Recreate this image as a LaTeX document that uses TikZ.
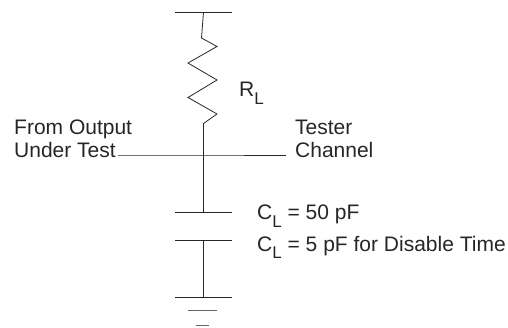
\documentclass[tikz,border=0pt]{standalone}
\usepackage{fontspec}
\setmainfont{Liberation Sans}
\usetikzlibrary{positioning,calc}
\newcommand{\subL}{\raisebox{-7.5pt}{\fontsize{17}{17}\selectfont L}}
\tikzset{wire/.style={line width=0.8pt,black!85},
  lbl/.style={inner sep=0pt,anchor=base west,font=\fontsize{21}{23}\selectfont,text=black!85}}
\begin{document}
\begin{tikzpicture}[x=1pt,y=-1pt]
   \useasboundingbox (0,0) rectangle (508,328);
   % supply and load
   \coordinate (top_l) at (175,12);
   \coordinate (top_r) at (232,12);
   \coordinate (top_m) at (203.5,12);
   \coordinate (res_a) at (201.5,38);
   \coordinate (res_b) at (203.5,123.5);
   \coordinate (junction) at (203.5,155);
   \coordinate (plate_m) at (203.5,212);
   \coordinate (plate_l) at (175,212);
   \coordinate (plate_r) at (232,212);
   \coordinate (lower_m) at (203.5,240.7);
   \coordinate (lower_l) at (175,240.7);
   \coordinate (lower_r) at (232,240.7);
   \coordinate (gnd_m) at (203.5,297);
   \coordinate (gnd_l) at (175,297);
   \coordinate (gnd_r) at (232,297);
   \coordinate (gnd2_l) at (188,310);
   \coordinate (gnd2_r) at (217,310);
   \coordinate (gnd3_l) at (196,325.7);
   \coordinate (gnd3_r) at (209,325.7);
   \coordinate (in_wire) at (118,155);
   \coordinate (out_wire) at (286,155);
   % labels
   \node [lbl] (from) at (14,135) {From Output};
   \node [lbl] (under) at (14,158) {Under Test};
   \node [lbl] (tester) at (295,135) {Tester};
   \node [lbl] (channel) at (295,158) {Channel};
   \node [lbl] (rl) at (239,96.7) {R\subL};
   \node [lbl] (cl_a) at (257,220) {C\subL\ = 50 pF};
   \node [lbl] (cl_b) at (257,251.5) {C\subL\ = 5 pF for Disable Time};
   % circuit
   \draw [wire] (top_l) -- (top_r);
   \draw [wire] (top_m) -- (res_a) -- (217,46.5) -- (188,63) -- (217,80) -- (188,97.5) -- (217,114) -- (res_b) -- (plate_m);
   \draw [wire] (in_wire) -- (junction) -- (out_wire);
   \draw [wire] (plate_l) -- (plate_r);
   \draw [wire] (lower_l) -- (lower_r);
   \draw [wire] (lower_m) -- (gnd_m);
   \draw [wire] (gnd_l) -- (gnd_r);
   \draw [wire,black!60] (gnd2_l) -- (gnd2_r);
   \draw [wire,black!60] (gnd3_l) -- (gnd3_r);
\end{tikzpicture}
\end{document}
